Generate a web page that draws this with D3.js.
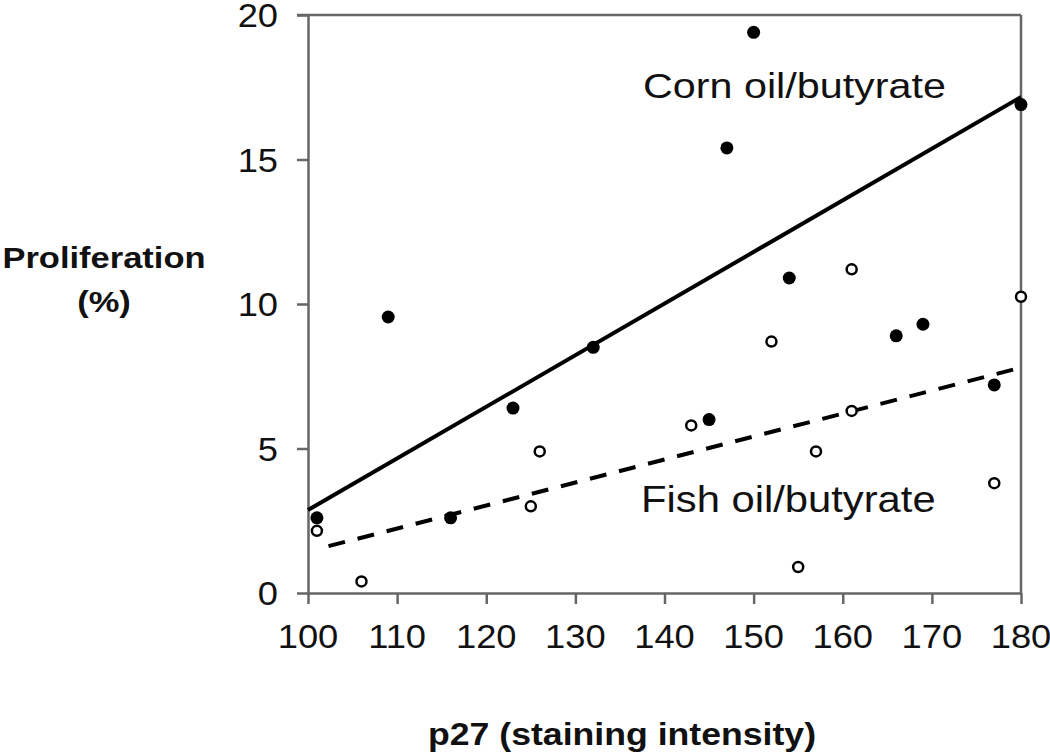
<!DOCTYPE html>
<html>
<head>
<meta charset="utf-8">
<script src="https://cdn.jsdelivr.net/npm/d3@7"></script>
<style>
  html, body { margin: 0; padding: 0; background: #fff; }
  svg { display: block; }
  text { font-family: Arial, "Liberation Sans", sans-serif; fill: #111; }
</style>
</head>
<body>
<svg id="chart" width="1050" height="755"></svg>
<script>
// ---- data ----
const cornX = [101, 109, 116, 123, 132, 145, 147, 150, 154, 166, 169, 177, 180];
const cornY = [2.6, 9.55, 2.6, 6.4, 8.5, 6.0, 15.4, 19.4, 10.9, 8.9, 9.3, 7.2, 16.9];
const fishX = [101, 106, 125, 126, 143, 152, 155, 157, 161, 161, 177, 180];
const fishY = [2.15, 0.4, 3.0, 4.9, 5.8, 8.7, 0.9, 4.9, 6.3, 11.2, 3.8, 10.25];
const cornLineX = [100, 180];
const cornLineY = [2.87, 17.16];
const fishLineX = [102.3, 180];
const fishLineY = [1.62, 7.8];
const xTicks = [100, 110, 120, 130, 140, 150, 160, 170, 180];
const yTicks = [0, 5, 10, 15, 20];
const labels = { corn: "Corn oil/butyrate", fish: "Fish oil/butyrate",
  yTitle1: "Proliferation", yTitle2: "(%)", xTitle: "p27 (staining intensity)" };

// ---- layout ----
const L = 308, R = 1021, T = 15, B = 593;
const svg = d3.select("#chart");
const x = d3.scaleLinear().domain([100, 180]).range([L, R]);
const y = d3.scaleLinear().domain([0, 20]).range([B, T]);
const axisCol = "#666";

function stretchedText(g, tx, ty, str, opts) {
  return g.append("text")
    .attr("transform", `translate(${tx},${ty}) scale(${opts.sx || 1.15},1)`)
    .attr("text-anchor", opts.anchor || "start")
    .style("font-size", opts.size + "px")
    .style("font-weight", opts.weight || "normal")
    .text(str);
}

// frame top and right
svg.append("line").attr("x1", L - 11).attr("x2", R).attr("y1", T).attr("y2", T)
  .attr("stroke", axisCol).attr("stroke-width", 2.5);
svg.append("line").attr("x1", R).attr("x2", R).attr("y1", T).attr("y2", B)
  .attr("stroke", axisCol).attr("stroke-width", 2.5);

// axes
const gx = svg.append("g").attr("transform", `translate(0,${B})`)
  .call(d3.axisBottom(x).tickValues(xTicks).tickSize(11).tickSizeOuter(0).tickFormat(""));
const gy = svg.append("g").attr("transform", `translate(${L},0)`)
  .call(d3.axisLeft(y).tickValues(yTicks).tickSize(11).tickSizeOuter(0).tickFormat(""));
[gx, gy].forEach(g => {
  g.select(".domain").attr("stroke", axisCol).attr("stroke-width", 2.5);
  g.selectAll(".tick line").attr("stroke", axisCol).attr("stroke-width", 2.5);
});

// tick labels
const tl = svg.append("g");
xTicks.forEach(v => stretchedText(tl, x(v), 648, String(v), { anchor: "middle", size: 33, sx: 1.1 }));
yTicks.forEach(v => stretchedText(tl, 278, y(v) + 12, String(v), { anchor: "end", size: 33, sx: 1.1 }));

// regression lines
const line = d3.line().x(d => x(d[0])).y(d => y(d[1]));
svg.append("path").datum(d3.zip(cornLineX, cornLineY)).attr("d", line)
  .attr("fill", "none").attr("stroke", "#000").attr("stroke-width", 4);
svg.append("path").datum(d3.zip(fishLineX, fishLineY)).attr("d", line)
  .attr("fill", "none").attr("stroke", "#000").attr("stroke-width", 4)
  .attr("stroke-dasharray", "17,13");

// points
svg.append("g").selectAll("circle").data(d3.zip(cornX, cornY)).join("circle")
  .attr("cx", d => x(d[0])).attr("cy", d => y(d[1])).attr("r", 6.5).attr("fill", "#000");
svg.append("g").selectAll("circle").data(d3.zip(fishX, fishY)).join("circle")
  .attr("cx", d => x(d[0])).attr("cy", d => y(d[1])).attr("r", 5)
  .attr("fill", "#fff").attr("stroke", "#000").attr("stroke-width", 2.5);

// annotations
const ann = svg.append("g");
stretchedText(ann, 643, 98, labels.corn, { size: 35, sx: 1.18 });
stretchedText(ann, 641, 512, labels.fish, { size: 36, sx: 1.16 });

// axis titles
const tg = svg.append("g");
stretchedText(tg, 104, 268, labels.yTitle1, { anchor: "middle", size: 30, weight: "bold" });
stretchedText(tg, 104, 312, labels.yTitle2, { anchor: "middle", size: 30, weight: "bold" });
stretchedText(tg, 622, 745, labels.xTitle, { anchor: "middle", size: 31, weight: "bold" });
</script>
</body>
</html>
